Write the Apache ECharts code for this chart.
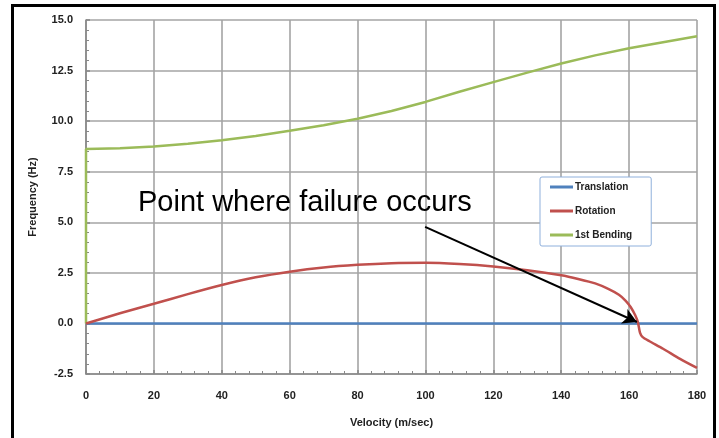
<!DOCTYPE html>
<html>
<head>
<meta charset="utf-8">
<script src="https://cdn.jsdelivr.net/npm/echarts@6/dist/echarts.min.js"></script>
<style>
html,body{margin:0;padding:0;background:#fff;}
#chart{width:719px;height:438px;}
</style>
</head>
<body>
<div id="chart"></div>
<script>
var seriesNames = ['Translation', 'Rotation', '1st Bending'];
var seriesColors = ['#4f81bd', '#c0504d', '#9bbb59'];

var translationVelocity = [0, 180];
var translationFreq = [0, 0];

var rotationVelocity = [0, 10, 20, 30, 40, 50, 60, 70, 80, 90, 100, 110, 120, 130, 140, 145, 150, 154, 157, 159, 160.5, 161.8, 162.6, 163.2, 164, 166, 170, 175, 180];
var rotationFreq = [0, 0.5, 0.97, 1.45, 1.9, 2.28, 2.56, 2.77, 2.9, 2.98, 3.0, 2.94, 2.82, 2.63, 2.38, 2.2, 1.98, 1.7, 1.42, 1.12, 0.8, 0.4, 0.05, -0.45, -0.68, -0.88, -1.25, -1.75, -2.2];

var bendingVelocity = [0, 0, 10, 20, 30, 40, 50, 60, 70, 80, 90, 100, 110, 120, 130, 140, 150, 160, 170, 180];
var bendingFreq = [0, 8.62, 8.66, 8.75, 8.88, 9.05, 9.27, 9.52, 9.8, 10.12, 10.5, 10.95, 11.45, 11.93, 12.4, 12.85, 13.25, 13.6, 13.9, 14.2];

var xTicks = { min: 0, max: 180, interval: 20 };
var yTicks = { min: -2.5, max: 15, interval: 2.5 };

var annotationText = 'Point where failure occurs';
var arrowFrom = [99.9, 4.77];
var arrowTo = [162.3, 0.07];

function pairs(xs, ys) {
  return xs.map(function (x, i) { return [x, ys[i]]; });
}

var chart = echarts.init(document.getElementById('chart'), null, { renderer: 'canvas' });

var axisLabelStyle = { fontFamily: 'Liberation Sans, Arial, sans-serif', fontSize: 11, fontWeight: 'bold', color: '#222' };
var gridLineStyle = { color: '#a4a4a4', width: 1.6 };

var option = {
  animation: false,
  backgroundColor: '#fff',
  grid: { left: 86, right: 22, top: 20, bottom: 64, containLabel: false },
  xAxis: {
    type: 'value',
    min: xTicks.min, max: xTicks.max, interval: xTicks.interval,
    name: 'Velocity (m/sec)',
    nameLocation: 'middle',
    nameGap: 43,
    nameTextStyle: { fontFamily: 'Liberation Sans, Arial, sans-serif', fontSize: 11, fontWeight: 'bold', color: '#222' },
    axisLine: { show: true, onZero: false, lineStyle: { color: '#888', width: 1.6 } },
    axisTick: { show: true, inside: true, length: 4, lineStyle: { color: '#888', width: 1.5 } },
    minorTick: { show: true, splitNumber: 5, length: 3, lineStyle: { color: '#888' } },
    axisLabel: Object.assign({ margin: 16, formatter: function (v) { return String(v); } }, axisLabelStyle),
    splitLine: { show: true, lineStyle: gridLineStyle }
  },
  yAxis: {
    type: 'value',
    min: yTicks.min, max: yTicks.max, interval: yTicks.interval,
    name: 'Frequency (Hz)',
    nameLocation: 'middle',
    nameGap: 48,
    nameTextStyle: { fontFamily: 'Liberation Sans, Arial, sans-serif', fontSize: 11, fontWeight: 'bold', color: '#222' },
    axisLine: { show: true, onZero: false, lineStyle: { color: '#888', width: 1.6 } },
    axisTick: { show: true, inside: true, length: 4, lineStyle: { color: '#888', width: 1.5 } },
    minorTick: { show: true, splitNumber: 5, length: 3, lineStyle: { color: '#888' } },
    axisLabel: Object.assign({ margin: 13, formatter: function (v) { return v.toFixed(1); } }, axisLabelStyle),
    splitLine: { show: true, lineStyle: gridLineStyle }
  },
  legend: {
    orient: 'vertical',
    left: 540, top: 177,
    padding: [5, 19, 6, 10],
    itemGap: 14,
    itemWidth: 23, itemHeight: 3,
    icon: 'rect',
    backgroundColor: '#fff',
    borderColor: '#8fb0dc',
    borderWidth: 1,
    borderRadius: 2,
    textStyle: { fontFamily: 'Liberation Sans, Arial, sans-serif', fontSize: 10, fontWeight: 'bold', color: '#222', lineHeight: 10, padding: [0, 0, 0, -3] },
    data: seriesNames
  },
  series: [
    {
      name: seriesNames[0], type: 'line', showSymbol: false, symbol: 'none',
      lineStyle: { color: seriesColors[0], width: 2.5 }, itemStyle: { color: seriesColors[0] },
      data: pairs(translationVelocity, translationFreq), z: 3
    },
    {
      name: seriesNames[1], type: 'line', showSymbol: false, symbol: 'none', smooth: 0.25,
      lineStyle: { color: seriesColors[1], width: 2.5 }, itemStyle: { color: seriesColors[1] },
      data: pairs(rotationVelocity, rotationFreq), z: 4,
      markLine: {
        silent: true,
        symbol: ['none', 'arrow'],
        symbolSize: [12, 14],
        label: { show: false },
        lineStyle: { color: '#000', width: 2, type: 'solid' },
        data: [[{ coord: arrowFrom }, { coord: arrowTo }]],
        z: 10
      }
    },
    {
      name: seriesNames[2], type: 'line', showSymbol: false, symbol: 'none',
      lineStyle: { color: seriesColors[2], width: 2.5 }, itemStyle: { color: seriesColors[2] },
      data: pairs(bendingVelocity, bendingFreq), z: 3
    }
  ],
  graphic: [
    {
      type: 'rect', silent: true, z: 100,
      shape: { x: 12.5, y: 5.5, width: 702, height: 440 },
      style: { fill: 'none', stroke: '#000', lineWidth: 3 }
    },
    {
      type: 'text', silent: true, z: 100,
      x: 138, y: 203,
      style: { text: annotationText, fontFamily: 'Liberation Sans, Arial, sans-serif', fontSize: 29, fill: '#000', align: 'left', verticalAlign: 'middle' }
    }
  ]
};
chart.setOption(option);
</script>
</body>
</html>
